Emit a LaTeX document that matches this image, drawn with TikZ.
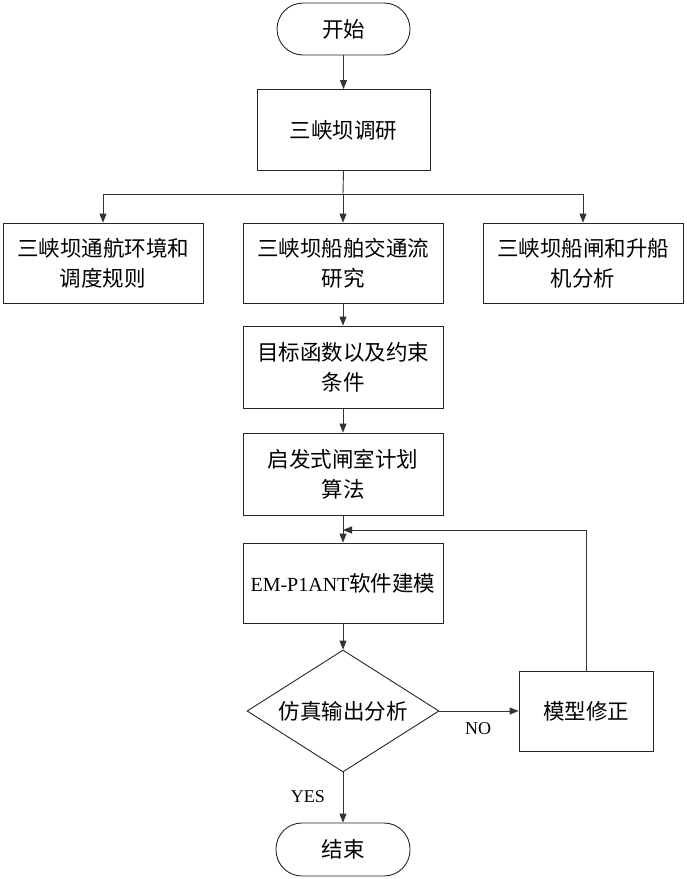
\documentclass[tikz,border=0pt]{standalone}
\usepackage{fontspec}
\setmainfont{Liberation Serif}
\newfontfamily\cjk{Noto Sans CJK SC}
\newfontfamily\lat{Liberation Serif}
\usetikzlibrary{shapes.geometric,arrows.meta}
\begin{document}
\begin{tikzpicture}[x=1pt,y=-1pt,line width=0.9pt,
  base/.style={draw=black!85,inner sep=0pt,align=center,font=\cjk\fontsize{21.5}{30}\selectfont},
  proc/.style={base,rectangle},
  term/.style={base,rectangle,rounded corners=26pt},
  dec/.style={base,diamond,aspect=1.57},
  arr/.style={draw=black!80,-{Triangle[length=9pt,width=7pt]}},
  ln/.style={draw=black!80},
  lbl/.style={font=\lat\fontsize{18}{20}\selectfont,inner sep=0pt}]
\useasboundingbox (0,0) rectangle (687,879);
\node[term,minimum width=133pt,minimum height=52pt] (start) at (343.5,29) {开始};
\node[proc,minimum width=173pt,minimum height=81pt] (survey) at (343.5,130) {三峡坝调研};
\node[proc,minimum width=200pt,minimum height=80pt] (env) at (103,263) {三峡坝通航环境和\\调度规则};
\node[proc,minimum width=200pt,minimum height=80pt] (flow) at (343,263) {三峡坝船舶交通流\\研究};
\node[proc,minimum width=200pt,minimum height=80pt] (lock) at (583,263) {三峡坝船闸和升船\\机分析};
\node[proc,minimum width=200pt,minimum height=82pt] (obj) at (343,367) {目标函数以及约束\\条件};
\node[proc,minimum width=200pt,minimum height=82pt] (heur) at (343,474) {启发式闸室计划\\算法};
\node[proc,minimum width=200pt,minimum height=80pt] (em) at (343,583) {{\lat\fontsize{20}{30}\selectfont EM-P1ANT}软件建模};
\node[dec,minimum width=192pt,minimum height=122pt] (check) at (343,711) {仿真输出分析};
\node[proc,minimum width=134pt,minimum height=80pt] (mod) at (586,711) {模型修正};
\node[term,minimum width=134pt,minimum height=53pt] (end) at (343,849.5) {结束};
\coordinate (br) at (343,194);
\coordinate (fb) at (343,530);
\draw[arr] (start) -- (survey);
\draw[ln] (survey.south) -- (br);
\draw[arr] (br) -| (env.north);
\draw[arr] (br) -| (lock.north);
\draw[arr] (br) -- (flow.north);
\draw[arr] (flow) -- (obj);
\draw[arr] (obj) -- (heur);
\draw[arr] (heur) -- (em);
\draw[arr] (em) -- (check.north);
\draw[arr] (check.east) -- (mod.west);
\draw[arr] (check.south) -- (end.north);
\draw[arr] (mod.north) |- (fb);
\node[lbl] (no) at (478,729) {NO};
\node[lbl] (yes) at (308,797) {YES};
\end{tikzpicture}
\end{document}
